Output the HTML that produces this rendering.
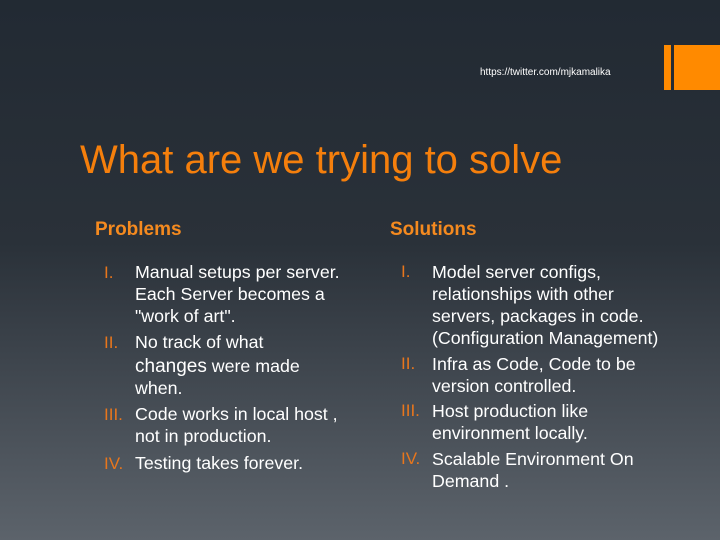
<!DOCTYPE html>
<html><head><style>
body{margin:0;width:720px;height:540px;overflow:hidden;background:linear-gradient(180deg,#222a33 0%,#2a3139 45%,#5c636b 100%);font-family:"Liberation Sans",sans-serif;position:relative}
div{position:absolute;white-space:nowrap}
.t{color:#fff;font-size:17.8px}
.n{color:#e8761c;font-size:17px}
.h{color:#f58a1f;font-weight:bold;font-size:19px}
</style></head><body>
<div style="left:664px;top:45px;width:7px;height:45px;background:#ff8a00"></div>
<div style="left:674px;top:45px;width:46px;height:45px;background:#ff8a00"></div>
<div style="left:480px;top:67px;color:#fff;font-size:10px">https://twitter.com/mjkamalika</div>
<div style="left:80px;top:138px;color:#f57f0c;font-size:40px">What are we trying to solve</div>
<div class="h" style="left:95px;top:219px">Problems</div>
<div class="h" style="left:390px;top:219px">Solutions</div>

<div class="n" style="left:104px;top:263px">I.</div>
<div class="t" style="left:135px;top:262px">Manual setups per server.</div>
<div class="t" style="left:135px;top:284px">Each Server becomes a</div>
<div class="t" style="left:135px;top:306px">"work of art".</div>
<div class="n" style="left:104px;top:333px">II.</div>
<div class="t" style="left:135px;top:332px">No track of what</div>
<div class="t" style="left:135px;top:356px"><span style="font-size:19px">changes</span> were made</div>
<div class="t" style="left:135px;top:378px">when.</div>
<div class="n" style="left:104px;top:405px">III.</div>
<div class="t" style="left:135px;top:404px">Code works in local host ,</div>
<div class="t" style="left:135px;top:426px">not in production.</div>
<div class="n" style="left:104px;top:454px">IV.</div>
<div class="t" style="left:135px;top:453px">Testing takes forever.</div>

<div class="n" style="left:401px;top:262px">I.</div>
<div class="t" style="left:432px;top:262px">Model server configs,</div>
<div class="t" style="left:432px;top:284px">relationships with other</div>
<div class="t" style="left:432px;top:306px">servers, packages in code.</div>
<div class="t" style="left:432px;top:328px">(Configuration Management)</div>
<div class="n" style="left:401px;top:354px">II.</div>
<div class="t" style="left:432px;top:354px">Infra as Code, Code to be</div>
<div class="t" style="left:432px;top:376px">version controlled.</div>
<div class="n" style="left:401px;top:401px">III.</div>
<div class="t" style="left:432px;top:401px">Host production like</div>
<div class="t" style="left:432px;top:423px">environment locally.</div>
<div class="n" style="left:401px;top:449px">IV.</div>
<div class="t" style="left:432px;top:449px">Scalable Environment On</div>
<div class="t" style="left:432px;top:471px">Demand .</div>
</body></html>
